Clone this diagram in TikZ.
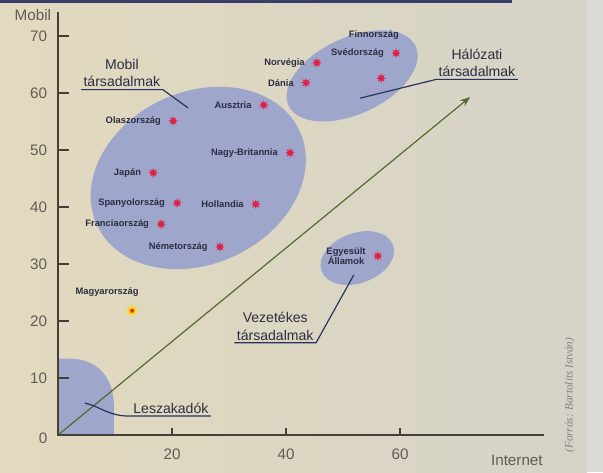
\documentclass[tikz,border=0pt]{standalone}
\usepackage{fontspec}
\setmainfont{Liberation Sans}
\newfontfamily\forrasfont{Liberation Serif}
\usepackage{tikz}
\usetikzlibrary{shapes.geometric, arrows.meta, positioning}
\definecolor{hatterbal}{RGB}{226,218,190}
\definecolor{hatterjobb}{RGB}{214,211,200}
\definecolor{szurkesav}{RGB}{218,218,214}
\definecolor{sotetkek}{RGB}{55,62,105}
\definecolor{felho}{RGB}{158,166,204}
\definecolor{tengely}{RGB}{70,62,55}
\definecolor{szoveg}{RGB}{45,45,65}
\definecolor{mutato}{RGB}{40,48,95}
\definecolor{zold}{RGB}{80,105,45}
\definecolor{piros}{RGB}{225,30,70}

\begin{document}
\begin{tikzpicture}[x=0.171cm, y=0.171cm,
    orszag/.style={shape=star, star points=8, star point ratio=2.2, fill=piros, minimum size=0.3cm, inner sep=0pt},
    nev/.style={text=szoveg, font=\bfseries\fontsize{8}{9}\selectfont, inner sep=0pt, align=center},
    csoport/.style={text=szoveg, font=\fontsize{12}{15}\selectfont, align=center, inner sep=2pt},
    szam/.style={text=tengely!85, font=\fontsize{13}{14}\selectfont},
    mutatovonal/.style={mutato, line width=1pt}]
    % background
    \useasboundingbox (-10.18,-6.49) rectangle (95.61,76.32);
    \shade[left color=hatterbal, right color=hatterjobb] (-10.18,-6.49) rectangle (92.8,76.32);
    \fill[szurkesav] (92.8,-6.49) rectangle (95.61,76.32);
    \fill[sotetkek] (-10.18,75.8) rectangle (79.6,76.32);
    % groups
    \fill[felho, rotate around={25:(24.6,45.1)}] (24.6,45.1) ellipse (19.6 and 15.1);
    \fill[felho, rotate around={25:(51.6,63.0)}] (51.6,63.0) ellipse (12.3 and 6.7);
    \fill[felho, rotate around={20:(52.5,31.05)}] (52.5,31.05) ellipse (6.67 and 4.39);
    \fill[felho] (0,0) |- (2,13.4) .. controls (7,13.4) and (9.8,10) .. (9.8,5) -- (9.8,0) -- cycle;
    % axes
    \coordinate (origo) at (0,0);
    \coordinate (zoldvege) at (72.3,59.3);
    \draw[zold, line width=1pt, -{Stealth[length=3mm, width=2.2mm]}] (origo) -- (zoldvege);
    \draw[tengely, line width=1.4pt] (0,74.2) -- (origo) -- (85.3,0);
    \foreach \y in {10,20,...,70} {
        \draw[tengely, line width=1.2pt] (0,\y) -- (1.9,\y);
        \node[szam, anchor=east] (y\y) at (-1.2,\y) {\y};
    }
    \foreach \x in {20,40,60} {
        \draw[tengely, line width=1.2pt] (\x,0) -- (\x,1.3);
        \node[szam] (x\x) at (\x,-3.3) {\x};
    }
    \node[szam] (nulla) at (-2.6,-0.5) {0};
    \node[szam] (mobiltengely) at (-4.4,73.7) {Mobil};
    \node[szam] (internet) at (80.5,-4.4) {Internet};
    \node[rotate=90, text=gray, font=\forrasfont\itshape\fontsize{9.5}{11}\selectfont] (forras) at (89.8,7.0) {(Forrás: Bartolits István)};
    % countries
    \node[orszag] (olasz) at (20.2,55.1) {};
    \node[nev, left=0.36cm of olasz.center] (olasz-nev) {Olaszország};
    \node[orszag] (ausztria) at (36.1,57.9) {};
    \node[nev, left=0.36cm of ausztria.center] (ausztria-nev) {Ausztria};
    \node[orszag] (nagybrit) at (40.7,49.5) {};
    \node[nev, left=0.36cm of nagybrit.center] (nagybrit-nev) {Nagy-Britannia};
    \node[orszag] (japan) at (16.7,46.0) {};
    \node[nev, left=0.36cm of japan.center] (japan-nev) {Japán};
    \node[orszag] (spanyol) at (20.9,40.7) {};
    \node[nev, left=0.36cm of spanyol.center] (spanyol-nev) {Spanyolország};
    \node[orszag] (holland) at (34.7,40.5) {};
    \node[nev, left=0.36cm of holland.center] (holland-nev) {Hollandia};
    \node[orszag] (francia) at (18.1,37.0) {};
    \node[nev, left=0.36cm of francia.center] (francia-nev) {Franciaország};
    \node[orszag] (nemet) at (28.4,33.0) {};
    \node[nev, left=0.36cm of nemet.center] (nemet-nev) {Németország};
    \node[orszag, draw=yellow!80!orange, line width=0.8pt] (magyar) at (13.0,21.8) {};
    \node[nev] (magyar-nev) at (8.6,25.1) {Magyarország};
    \node[orszag] (norveg) at (45.4,65.3) {};
    \node[nev, left=0.36cm of norveg.center] (norveg-nev) {Norvégia};
    \node[orszag] (dania) at (43.5,61.8) {};
    \node[nev, left=0.36cm of dania.center] (dania-nev) {Dánia};
    \node[orszag] (finn) at (59.3,67.0) {};
    \node[nev] (finn-nev) at (55.4,70.2) {Finnország};
    \node[orszag] (sved) at (56.7,62.6) {};
    \node[nev, left=0.36cm of finn.center] (sved-nev) {Svédország};
    \node[orszag] (usa) at (56.1,31.4) {};
    \node[nev, left=0.36cm of usa.center] (usa-nev) {Egyesült\\Államok};
    % group labels
    \node[csoport] (mobil) at (11.2,63.5) {Mobil\\társadalmak};
    \coordinate (mobilvege) at (22.8,57.4);
    \draw[mutatovonal] (mobil.south west) -- (mobil.south east) -- (mobilvege);
    \node[csoport] (halozati) at (73.5,65.3) {Hálózati\\társadalmak};
    \coordinate (halozativege) at (53.0,59.1);
    \draw[mutatovonal] (halozati.south east) -- (halozati.south west) -- (halozativege);
    \node[csoport] (vezetekes) at (38.1,19.1) {Vezetékes\\társadalmak};
    \coordinate (vezetekesvege) at (51.9,28.1);
    \draw[mutatovonal] (vezetekes.south west) -- (vezetekes.south east) -- (vezetekesvege);
    \node[csoport] (lesz) at (19.8,4.7) {Leszakadók};
    \coordinate (leszvege) at (4.7,5.6);
    \draw[mutatovonal] (lesz.south east) -- (lesz.south west) .. controls (9,3.2) and (7,5.2) .. (leszvege);
\end{tikzpicture}
\end{document}
